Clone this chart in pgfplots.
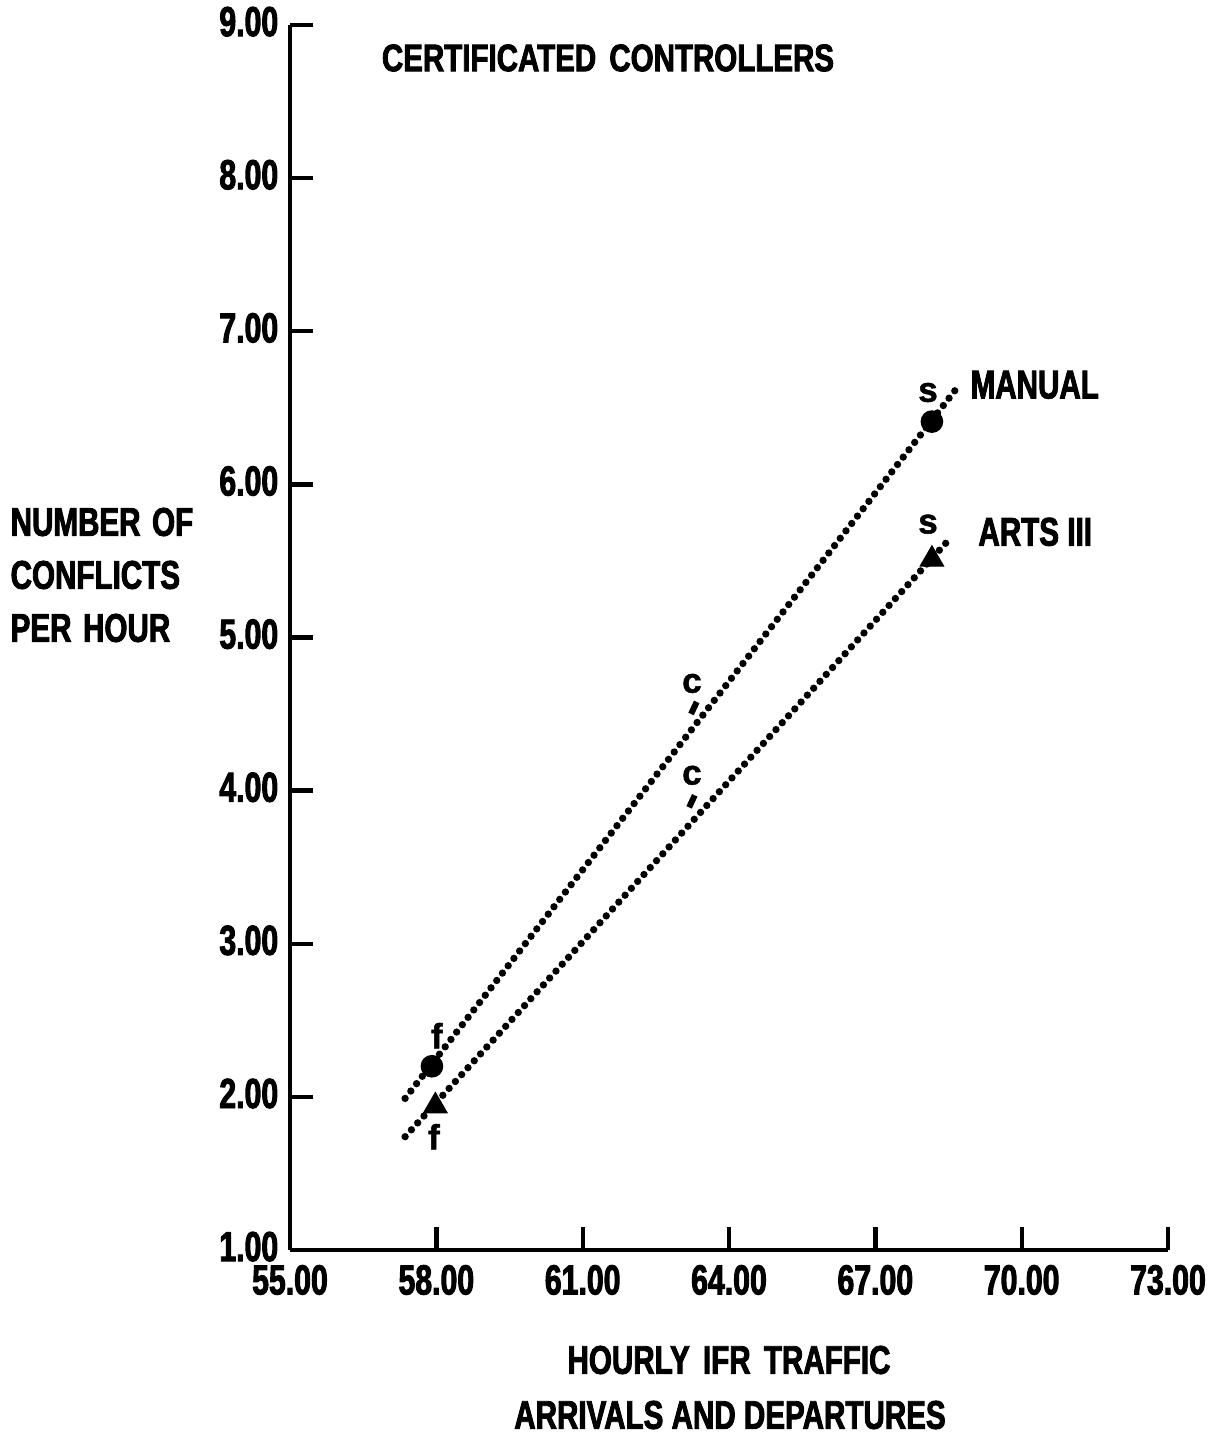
\documentclass[border=0pt]{standalone}
\usepackage{fontspec}
\setmainfont{Liberation Sans}
\newfontfamily\condA[FakeStretch=0.72, FakeBold=2.2]{Liberation Sans}
\newfontfamily\condB[FakeStretch=0.77, FakeBold=2.2]{Liberation Sans}
\newfontfamily\condC[FakeStretch=0.74, FakeBold=2.2]{Liberation Sans}
\newfontfamily\lettfont[FakeBold=1.5]{Liberation Sans}
\usepackage{pgfplots}
\pgfplotsset{compat=1.18}
\newcommand\tickf{\condA\bfseries\fontsize{12.6}{14}\selectfont}
\newcommand\titlef{\condB\bfseries\fontsize{11.5}{14}\selectfont}
\newcommand\labf{\condC\bfseries\fontsize{12}{14}\selectfont}
\newcommand\lett{\lettfont\bfseries\fontsize{10.5}{12}\selectfont}
\begin{document}
\begin{tikzpicture}
\path[use as bounding box] (-87pt,-55.5pt) rectangle (277.5pt,375pt);
\begin{axis}[
 at={(0,0)}, anchor=south west, scale only axis,
 width=263.4pt, height=367.5pt,
 xmin=55, xmax=73, ymin=1, ymax=9,
 axis lines=left, axis line style={-, line width=1.3pt},
 xtick={55,58,...,73}, ytick={1,...,9},
 tick align=inside, major tick length=7pt,
 tick style={line width=1.3pt, black},
 /pgf/number format/fixed, /pgf/number format/fixed zerofill,
 /pgf/number format/precision=2, /pgf/number format/assume math mode=true,
 ticklabel style={font=\tickf},
 xticklabel style={yshift=-1pt},
 yticklabel style={yshift=1pt},
 clip=false,
]
\addplot[black, line width=2.2pt, line cap=round, dash pattern=on 0pt off 2.8pt] coordinates {(57.36,1.99) (68.65,6.62)};
\addplot[black, line width=2.2pt, line cap=round, dash pattern=on 0pt off 2.8pt] coordinates {(57.36,1.74) (68.57,5.66)};
\addplot[only marks, mark=*, mark size=3.2pt, black] coordinates {(57.91,2.20) (68.16,6.41)};
\addplot[only marks, mark=triangle*, mark size=4pt, black] coordinates {(57.98,1.94) (68.16,5.51)};
\addplot[only marks, mark=|, mark size=2pt, black, mark options={rotate=-25, line width=1.8pt}] coordinates {(63.28,4.54) (63.24,3.93)};
\node[font=\lett] at (axis cs:58.01,2.40) {f};
\node[font=\lett] at (axis cs:57.95,1.74) {f};
\node[font=\lett] at (axis cs:68.08,6.60) {s};
\node[font=\lett] at (axis cs:68.08,5.74) {s};
\node[font=\lett] at (axis cs:63.24,4.70) {c};
\node[font=\lett] at (axis cs:63.24,4.10) {c};
\node[font=\labf, anchor=west, inner sep=0pt] at (axis cs:68.94,6.65) {MANUAL};
\node[font=\labf, anchor=west, inner sep=0pt] at (axis cs:69.10,5.69) {ARTS\hspace{2.5pt}III};
\end{axis}
\node[font=\titlef] at (95.4pt,357.6pt) {CERTIFICATED\hspace{1.5pt} CONTROLLERS};
\node[font=\labf, anchor=west, inner sep=0pt] at (-84pt,218.4pt) {NUMBER\hspace{1pt} OF};
\node[font=\labf, anchor=west, inner sep=0pt] at (-84pt,202.5pt) {CONFLICTS};
\node[font=\labf, anchor=west, inner sep=0pt] at (-84pt,186.6pt) {PER\hspace{1pt} HOUR};
\node[font=\labf] at (131.7pt,-33pt) {HOURLY\hspace{1.5pt} IFR\hspace{1.5pt} TRAFFIC};
\node[font=\labf] at (132pt,-49.5pt) {ARRIVALS AND DEPARTURES};
\end{tikzpicture}
\end{document}
